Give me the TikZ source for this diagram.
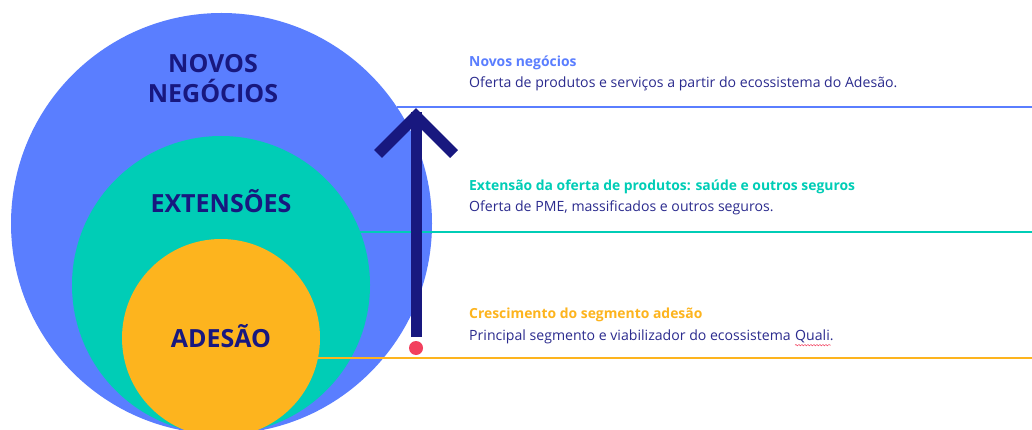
\documentclass[tikz,border=0pt]{standalone}
\usepackage{fontspec}
\setmainfont{Open Sans}
\usetikzlibrary{decorations.pathmorphing,calc}
\definecolor{cblue}{HTML}{5A7EFF}
\definecolor{cteal}{HTML}{00CDB6}
\definecolor{corange}{HTML}{FDB41E}
\definecolor{cnavy}{HTML}{18187F}
\definecolor{ctext}{HTML}{2B2B8E}
\definecolor{cred}{HTML}{F2405E}
\tikzset{
  circlab/.style={font=\bfseries\fontsize{25}{28}\selectfont, text=cnavy, align=center, inner sep=0pt},
  head/.style={font=\bfseries\fontsize{13.9}{17}\selectfont, anchor=west, inner sep=0pt},
  body/.style={font=\fontsize{14.1}{17}\selectfont, text=ctext, anchor=west, inner sep=0pt},
  level/.style={line width=2pt},
}
\begin{document}
\begin{tikzpicture}[x=1pt,y=-1pt]
\useasboundingbox (0,0) rectangle (1032,430);
\clip (0,0) rectangle (1032,430);
\fill[white] (0,0) rectangle (1032,430);
% circles
\node[circle, fill=cblue, minimum size=421pt, inner sep=0pt] (cb) at (221.5,223.5) {};
\node[circle, fill=cteal, minimum size=298pt, inner sep=0pt] (ct) at (221,285) {};
\node[circle, fill=corange, minimum size=198pt, inner sep=0pt] (co) at (221,338) {};
% level lines
\coordinate (lb1) at (397,107);
\coordinate (lb2) at (1032,107);
\coordinate (lt1) at (360,232);
\coordinate (lt2) at (1032,232);
\coordinate (lo1) at (318,358);
\coordinate (lo2) at (1032,358);
\draw[level, cblue] (lb1) -- (lb2);
\draw[level, cteal] (lt1) -- (lt2);
\draw[level, corange] (lo1) -- (lo2);
% circle labels
\node[circlab] (nn1) at (213,64) {NOVOS};
\node[circlab] (nn2) at (213,91) {NEGÓCIOS};
\node[circlab] (ne) at (221,201) {EXTENSÕES};
\node[circlab] (na) at (221,336) {ADESÃO};
% arrow
\coordinate (tip) at (416,116);
\coordinate (al) at (378,154);
\coordinate (ar) at (454,154);
\coordinate (sb) at (416,337);
\draw[cnavy, line width=11pt] (sb) -- (416,112);
\draw[cnavy, line width=11pt, line join=miter] (al) -- (tip) -- (ar);
\node[circle, fill=cred, minimum size=14pt, inner sep=0pt] (dot) at (416,348) {};
% right texts
\node[head, text=cblue] (h1) at (469,63) {Novos negócios};
\node[body] (b1) at (469,84) {Oferta de produtos e serviços a partir do ecossistema do Adesão.};
\node[head, text=cteal] (h2) at (469,187) {Extensão da oferta de produtos: saúde e outros seguros};
\node[body] (b2) at (469,208) {Oferta de PME, massificados e outros seguros.};
\node[head, text=corange] (h3) at (469,315) {Crescimento do segmento adesão};
\node[body] (b3) at (469,337) {Principal segmento e viabilizador do ecossistema};
\node[body, anchor=base west] (q) at ($(b3.base east)+(4,0)$) {Quali.};
\draw[cred, line width=0.5pt, decorate, decoration={snake, amplitude=0.7pt, segment length=3pt}]
  ($(q.base west)+(0,4.5)$) -- ($(q.base east)+(-3,4.5)$);
\end{tikzpicture}
\end{document}
